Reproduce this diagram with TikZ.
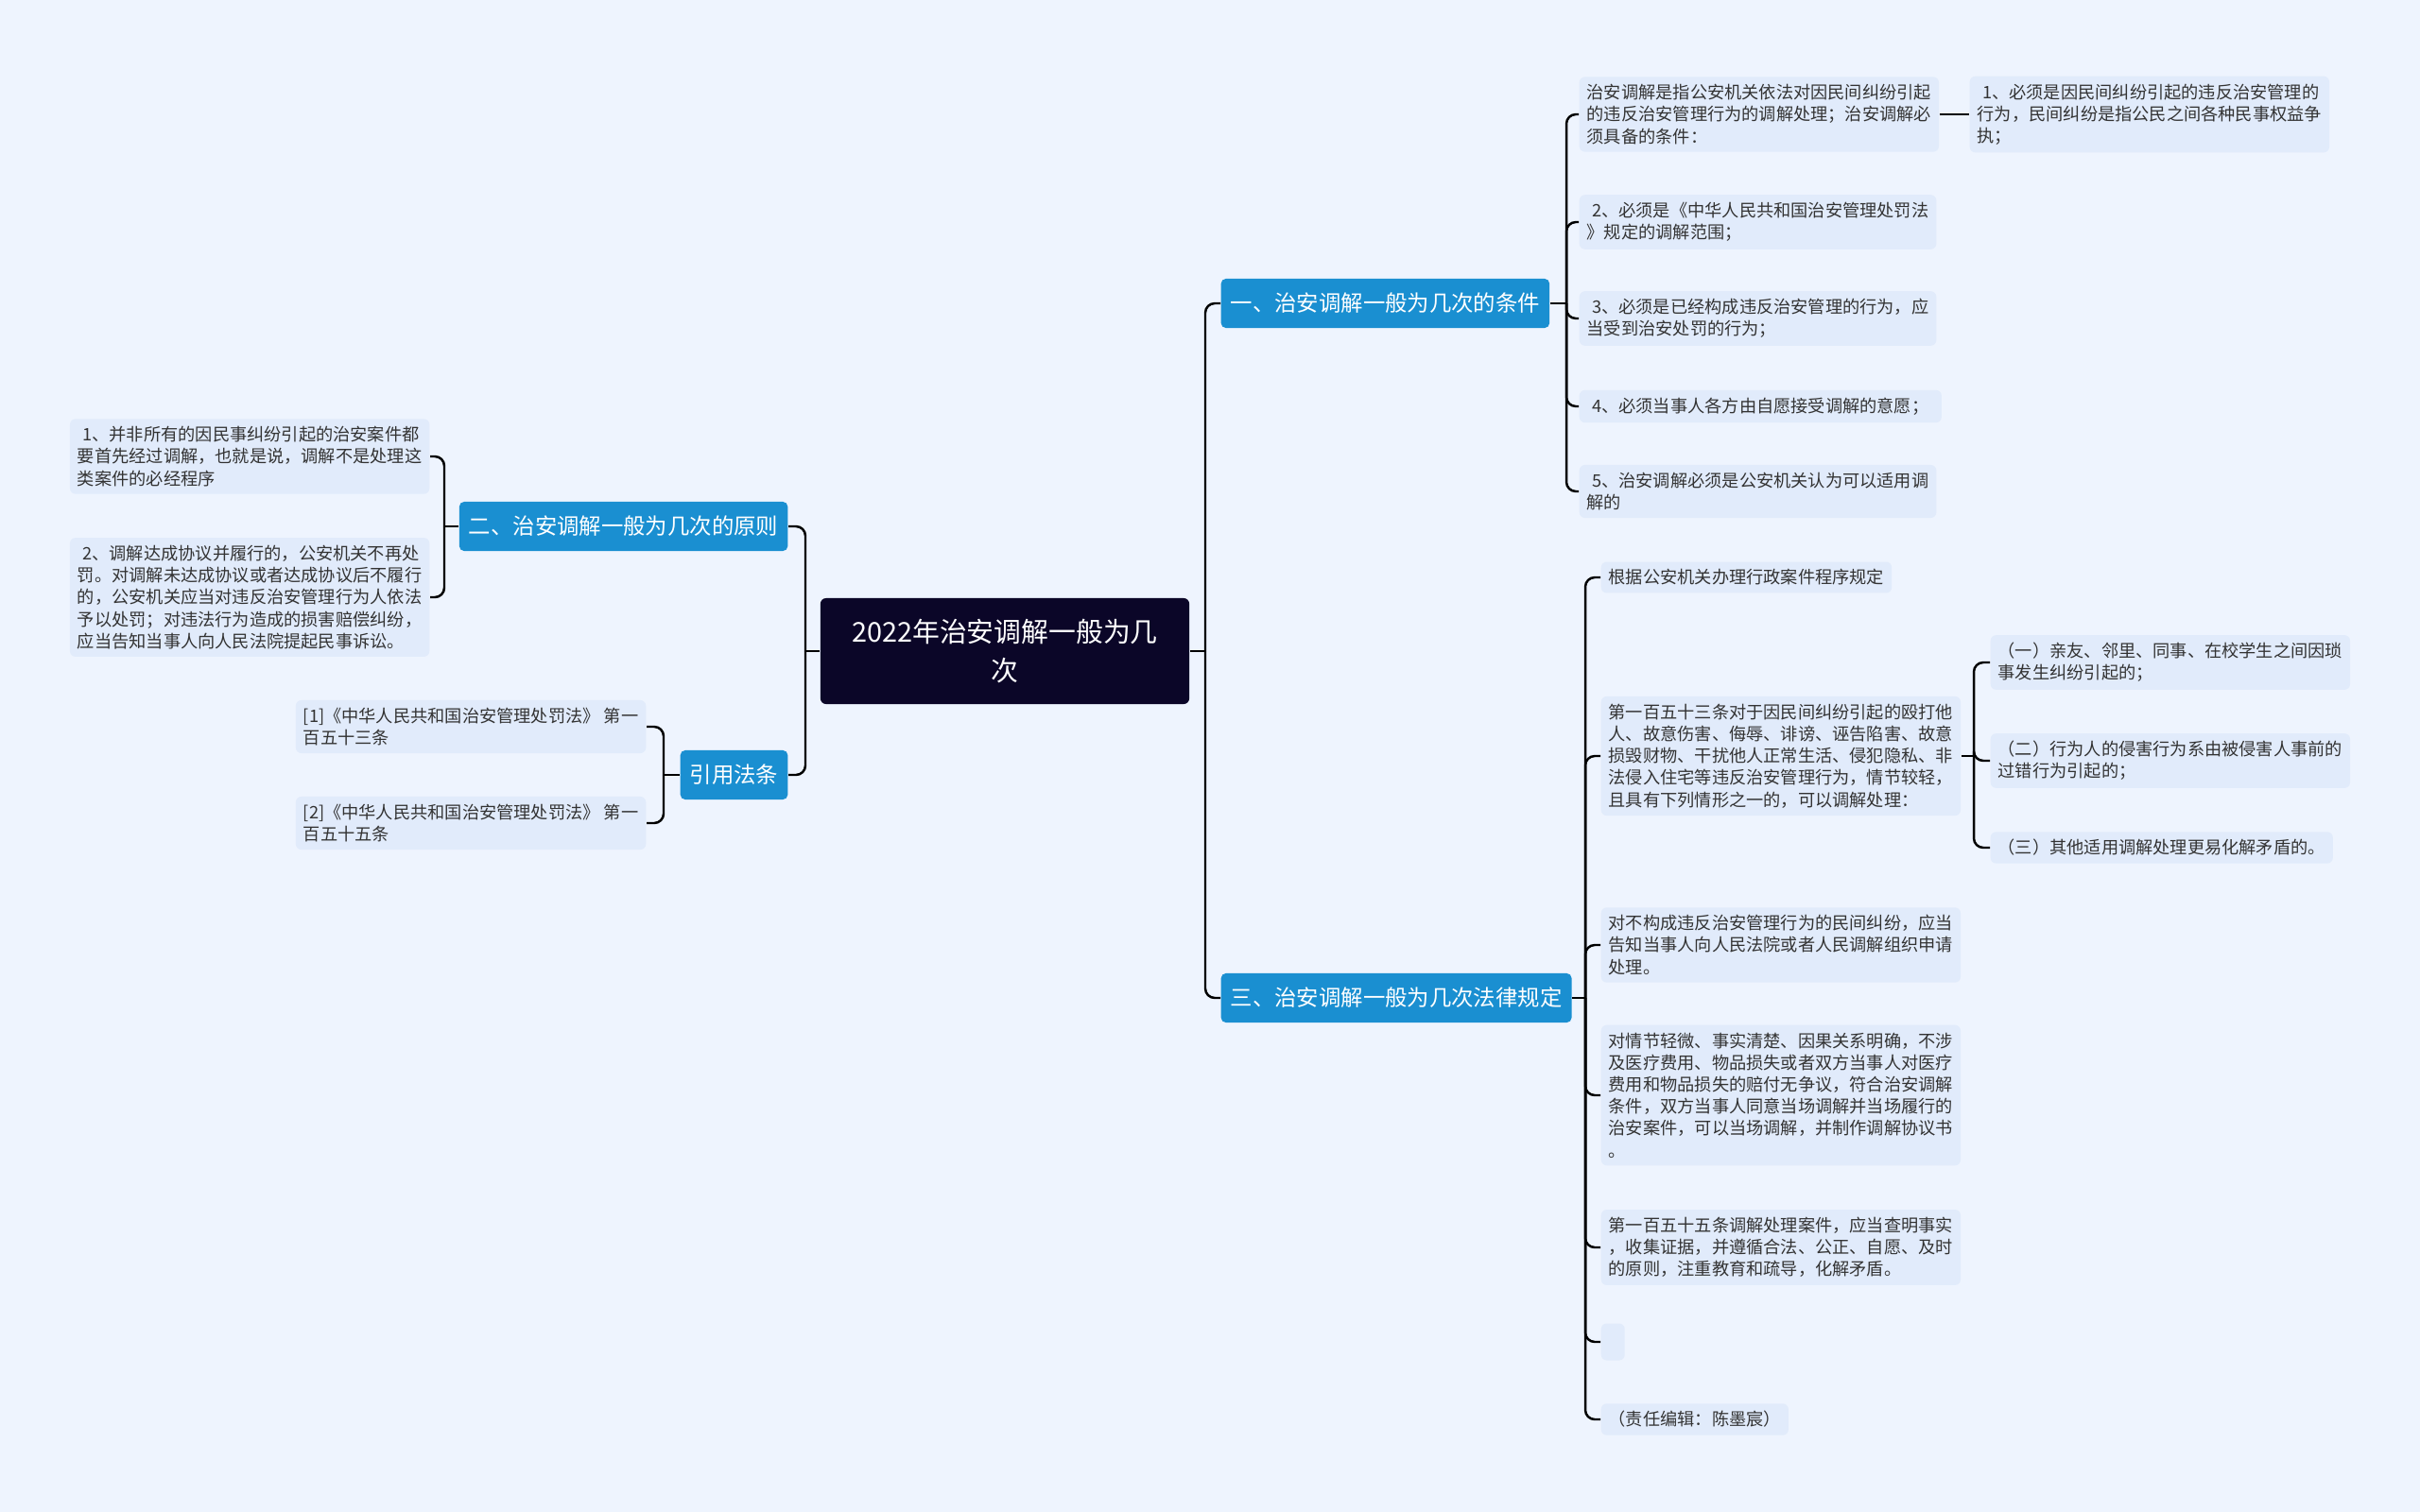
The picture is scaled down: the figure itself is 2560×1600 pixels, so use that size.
\documentclass[tikz,border=0pt]{standalone}
\usepackage{fontspec}
\setmainfont{Noto Sans CJK SC}
\definecolor{bgblue}{RGB}{238,244,254}
\definecolor{leafblue}{RGB}{225,235,251}
\definecolor{topicblue}{RGB}{26,143,209}
\definecolor{rootnavy}{RGB}{11,6,40}
\definecolor{leaftext}{RGB}{51,51,51}
\newcommand{\ind}{\hspace*{0.3em}}

\begin{document}
\begin{tikzpicture}[x=0.01cm, y=-0.01cm,
    link/.style={line width=0.7pt, rounded corners=0.1cm},
    leaf/.style={fill=leafblue, rounded corners=0.06cm, align=left, inner xsep=0.08cm,
        inner ysep=0.08cm, text=leaftext, font=\fontsize{5.18}{6.6}\selectfont},
    topic/.style={fill=topicblue, rounded corners=0.05cm, text=white, minimum height=0.52cm,
        inner xsep=0.1cm, font=\fontsize{6.65}{8}\selectfont},
    rootbox/.style={fill=rootnavy, rounded corners=0.06cm, text=white, align=center,
        minimum width=3.9cm, minimum height=1.12cm, text width=3.6cm,
        font=\fontsize{8.2}{11.6}\selectfont}]
        % Canvas
        \fill[bgblue] (0,0) rectangle (2560,1600);
        \useasboundingbox (0,0) rectangle (2560,1600);

        % Root and topics
        \node[rootbox] (root) at (1063,689) {2022年治安调解一般为几\\次};
        \node[topic, anchor=west] (t1) at (1291,321) {一、治安调解一般为几次的条件};
        \node[topic, anchor=west] (t3) at (1291,1056) {三、治安调解一般为几次法律规定};
        \node[topic, anchor=east] (t2) at (834,557) {二、治安调解一般为几次的原则};
        \node[topic, anchor=east] (cite) at (834,820) {引用法条};

        % Topic one
        \node[leaf, anchor=west] (r1a) at (1670,121) {治安调解是指公安机关依法对因民间纠纷引起\\的违反治安管理行为的调解处理；治安调解必\\须具备的条件：};
        \node[leaf, anchor=west] (r1a1) at (2083,121) {\ind 1、必须是因民间纠纷引起的违反治安管理的\\行为，民间纠纷是指公民之间各种民事权益争\\执；};
        \node[leaf, anchor=west] (r1b) at (1670,235) {\ind 2、必须是《中华人民共和国治安管理处罚法\\》规定的调解范围；};
        \node[leaf, anchor=west] (r1c) at (1670,337) {\ind 3、必须是已经构成违反治安管理的行为，应\\当受到治安处罚的行为；};
        \node[leaf, anchor=west] (r1d) at (1670,430) {\ind 4、必须当事人各方由自愿接受调解的意愿；\ind};
        \node[leaf, anchor=west] (r1e) at (1670,520) {\ind 5、治安调解必须是公安机关认为可以适用调\\解的};

        % Topic two
        \node[leaf, anchor=east] (l1) at (455,483) {\ind 1、并非所有的因民事纠纷引起的治安案件都\\要首先经过调解，也就是说，调解不是处理这\\类案件的必经程序};
        \node[leaf, anchor=east] (l2) at (455,632) {\ind 2、调解达成协议并履行的，公安机关不再处\\罚。对调解未达成协议或者达成协议后不履行\\的，公安机关应当对违反治安管理行为人依法\\予以处罚；对违法行为造成的损害赔偿纠纷，\\应当告知当事人向人民法院提起民事诉讼。};

        % Citations
        \node[leaf, anchor=east] (c1) at (684,769) {[1]《中华人民共和国治安管理处罚法》 第一\\百五十三条};
        \node[leaf, anchor=east] (c2) at (684,871) {[2]《中华人民共和国治安管理处罚法》 第一\\百五十五条};

        % Topic three
        \node[leaf, anchor=west] (r3a) at (1693,611) {根据公安机关办理行政案件程序规定};
        \node[leaf, anchor=west] (r3b) at (1693,800) {第一百五十三条对于因民间纠纷引起的殴打他\\人、故意伤害、侮辱、诽谤、诬告陷害、故意\\损毁财物、干扰他人正常生活、侵犯隐私、非\\法侵入住宅等违反治安管理行为，情节较轻，\\且具有下列情形之一的，可以调解处理：};
        \node[leaf, anchor=west] (r3b1) at (2105,701) {（一）亲友、邻里、同事、在校学生之间因琐\\事发生纠纷引起的；};
        \node[leaf, anchor=west] (r3b2) at (2105,805) {（二）行为人的侵害行为系由被侵害人事前的\\过错行为引起的；};
        \node[leaf, anchor=west] (r3b3) at (2105,897) {（三）其他适用调解处理更易化解矛盾的。};
        \node[leaf, anchor=west] (r3c) at (1693,1000) {对不构成违反治安管理行为的民间纠纷，应当\\告知当事人向人民法院或者人民调解组织申请\\处理。};
        \node[leaf, anchor=west] (r3d) at (1693,1159) {对情节轻微、事实清楚、因果关系明确，不涉\\及医疗费用、物品损失或者双方当事人对医疗\\费用和物品损失的赔付无争议，符合治安调解\\条件，双方当事人同意当场调解并当场履行的\\治安案件，可以当场调解，并制作调解协议书\\。};
        \node[leaf, anchor=west] (r3e) at (1693,1320) {第一百五十五条调解处理案件，应当查明事实\\，收集证据，并遵循合法、公正、自愿、及时\\的原则，注重教育和疏导，化解矛盾。};
        \node[leaf, anchor=west, minimum width=0.25cm, minimum height=0.39cm] (r3f) at (1693,1420) {};
        \node[leaf, anchor=west] (r3g) at (1693,1502) {（责任编辑：陈墨宸）};

        % Junctions
        \coordinate (rj) at (1275,689);
        \coordinate (lj) at (852,689);
        \coordinate (t1j) at (1657,321);
        \coordinate (t3j) at (1677,1056);
        \coordinate (r3bj) at (2088,800);
        \coordinate (t2j) at (470,557);
        \coordinate (citej) at (702,820);

        % Connectors
        \draw[link] (root.east) -- (rj);
        \draw[link] (root.west) -- (lj);
        \foreach \n in {t1,t3} \draw[link] (rj) |- (\n.west);
        \foreach \n in {t2,cite} \draw[link] (lj) |- (\n.east);
        \draw[link] (t1.east) -- (t1j);
        \foreach \n in {r1a,r1b,r1c,r1d,r1e} \draw[link] (t1j) |- (\n.west);
        \draw[link] (r1a.east) -- (r1a1.west);
        \draw[link] (t3.east) -- (t3j);
        \foreach \n in {r3a,r3b,r3c,r3d,r3e,r3f,r3g} \draw[link] (t3j) |- (\n.west);
        \draw[link] (r3b.east) -- (r3bj);
        \foreach \n in {r3b1,r3b2,r3b3} \draw[link] (r3bj) |- (\n.west);
        \draw[link] (t2.west) -- (t2j);
        \foreach \n in {l1,l2} \draw[link] (t2j) |- (\n.east);
        \draw[link] (cite.west) -- (citej);
        \foreach \n in {c1,c2} \draw[link] (citej) |- (\n.east);
\end{tikzpicture}
\end{document}
